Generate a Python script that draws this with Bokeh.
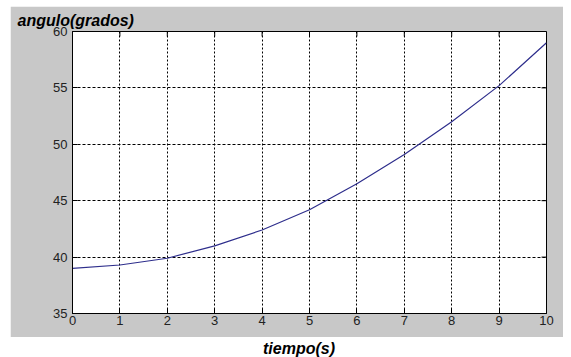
import math

from bokeh.plotting import figure
from bokeh.models import Range1d, FixedTicker, Label
from bokeh.layouts import column
from bokeh.embed import file_html
from bokeh.resources import INLINE

# Angle of the arm over time
tiempo = [0, 1, 2, 3, 4, 5, 6, 7, 8, 9, 10]
angulo = [39.0, 39.3, 39.9, 41.0, 42.4, 44.2, 46.5, 49.1, 52.0, 55.2, 59.0]

x_ticks = [0, 1, 2, 3, 4, 5, 6, 7, 8, 9, 10]
y_ticks = [35, 40, 45, 50, 55, 60]

GRAY = "#c8c8c8"
FONT = "Liberation Sans"

p = figure(
    frame_width=474, frame_height=282,
    x_range=Range1d(0, 10), y_range=Range1d(35, 60),
    output_backend="svg", toolbar_location=None,
    min_border_left=62, min_border_right=17,
    min_border_top=25, min_border_bottom=24,
    border_fill_color=GRAY, background_fill_color="white",
    outline_line_color="black", outline_line_width=1,
    margin=(6, 8, 0, 10),
)

p.title.text = "angulo(grados)"
p.title.align = "left"
p.title.offset = -55
p.title.standoff = 5
p.title.text_font = FONT
p.title.text_font_size = "16px"
p.title.text_font_style = "bold italic"
p.title.text_color = "black"

p.line(tiempo, angulo, line_color="#2e2e8c", line_width=1.2)

# Inward ticks on the bottom and left axes
for ax in p.below + p.left:
    ax.major_tick_in = 5
    ax.major_tick_out = 0
    ax.minor_tick_line_color = None
    ax.axis_line_color = "black"
    ax.major_tick_line_color = "black"
    ax.major_label_text_font = FONT
    ax.major_label_text_font_size = "13px"
    ax.major_label_text_color = "#222222"
p.xaxis.ticker = FixedTicker(ticks=x_ticks)
p.yaxis.ticker = FixedTicker(ticks=y_ticks)
p.xaxis.major_label_standoff = 2
p.yaxis.major_label_standoff = 5

# Matching inward ticks along the top and right edges of the box
p.ray(x=x_ticks, y=[60] * len(x_ticks), length=5, length_units="screen",
      angle=-math.pi / 2, line_color="black", line_width=1)
p.ray(x=[10] * len(y_ticks), y=y_ticks, length=5, length_units="screen",
      angle=math.pi, line_color="black", line_width=1)

p.xgrid.ticker = FixedTicker(ticks=x_ticks)
p.ygrid.ticker = FixedTicker(ticks=y_ticks)
p.xgrid.grid_line_color = "black"
p.xgrid.grid_line_dash = "2 2"
p.ygrid.grid_line_color = "black"
p.ygrid.grid_line_dash = "3 2"

# Strip below the gray panel carrying the x-axis caption
cap = figure(
    width=571, height=20, x_range=Range1d(0, 571), y_range=Range1d(0, 20),
    x_axis_type=None, y_axis_type=None,
    output_backend="svg", toolbar_location=None, min_border=0,
    outline_line_color=None, border_fill_color="white",
    background_fill_color="white",
)
cap.xgrid.visible = False
cap.ygrid.visible = False
cap.add_layout(Label(
    x=274.5, y=9, text="tiempo(s)",
    text_font=FONT, text_font_size="16px", text_font_style="bold italic",
    text_color="black", text_baseline="middle", text_align="center",
))

layout = column(p, cap, spacing=0)
open("out.html", "w").write(file_html(layout, INLINE))
